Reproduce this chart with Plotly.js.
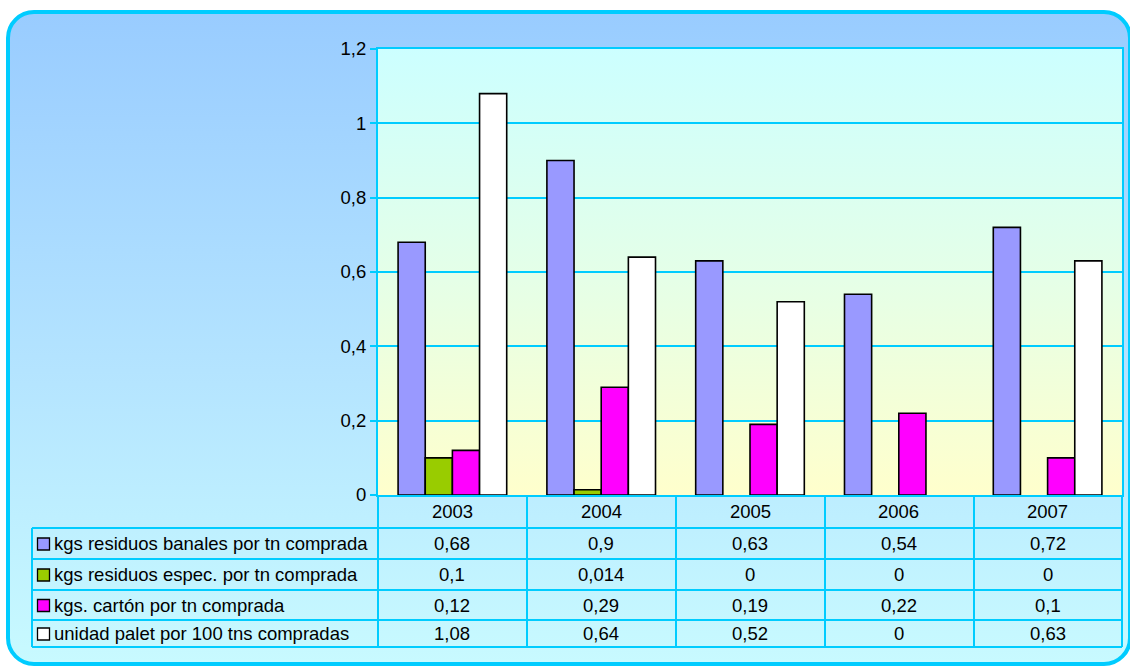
<!DOCTYPE html>
<html>
<head>
<meta charset="utf-8">
<script src="https://cdn.plot.ly/plotly-3.0.1.min.js"></script>
<style>
  html, body { margin: 0; padding: 0; background: #ffffff; }
  #wrap { position: relative; width: 1130px; height: 666px; overflow: hidden; background: #ffffff; }
  #frame { position: absolute; left: 6px; top: 10px; width: 1118px; height: 648px;
           border: 4px solid #00CCFF; border-radius: 28px;
           background: linear-gradient(to bottom, #99CCFF 0%, #B4E4FF 55%, #C8FAFF 100%); }
  #plotbg { position: absolute; left: 378px; top: 49px; width: 744px; height: 446px;
            background: linear-gradient(to bottom, #CCFFFF 0%, #E4FFE8 50%, #FFFFCC 100%); }
  #chart { position: absolute; left: 0; top: 0; width: 1130px; height: 666px; }
</style>
</head>
<body>
<div id="wrap">
  <div id="frame"></div>
  <div id="plotbg"></div>
  <div id="chart"></div>
</div>
<script>
// ---- data ----
const years = ['2003', '2004', '2005', '2006', '2007'];
const seriesNames = [
  'kgs residuos banales por tn comprada',
  'kgs residuos espec. por tn comprada',
  'kgs. cartón por tn comprada',
  'unidad palet por 100 tns compradas'
];
const banales = [0.68, 0.9, 0.63, 0.54, 0.72];
const espec   = [0.1, 0.014, 0, 0, 0];
const carton  = [0.12, 0.29, 0.19, 0.22, 0.1];
const palet   = [1.08, 0.64, 0.52, 0, 0.63];
const yTickVals = [0, 0.2, 0.4, 0.6, 0.8, 1, 1.2];
const yTickText = ['0', '0,2', '0,4', '0,6', '0,8', '1', '1,2'];

// ---- styles ----
const seriesValues = [banales, espec, carton, palet];
const seriesColors = ['#9999FF', '#99CC00', '#FF00FF', '#FFFFFF'];
const gridCol = '#00CCFF';
const FONT = 'Liberation Sans, Arial, sans-serif';
const TXT = 18.5;

const W = 1130, H = 666;
const PL = 378, PR = 1122, PT = 49, PB = 495;
const px = x => (x - PL) / (PR - PL);
const py = y => (PB - y) / (PB - PT);

const traces = seriesValues.map((vals, i) => ({
  type: 'bar',
  name: seriesNames[i],
  x: years,
  y: vals,
  marker: { color: seriesColors[i],
            line: { color: '#000000', width: vals.map(v => (v === 0 ? 0 : 1.6)) } },
  hoverinfo: 'skip'
}));

// ---- data table ----
const shapes = [];
const annotations = [];
const lineStyle = { color: gridCol, width: 2 };
const colLines = [378, 527, 676, 825, 974, 1122];
const rowLines = [528, 559, 590, 620, 647];
colLines.forEach(x => {
  shapes.push({ type: 'line', xref: 'paper', yref: 'paper',
    x0: px(x), x1: px(x), y0: py(PB), y1: py(647), line: lineStyle });
});
shapes.push({ type: 'line', xref: 'paper', yref: 'paper',
  x0: px(32), x1: px(32), y0: py(528), y1: py(647), line: lineStyle });
rowLines.forEach(y => {
  shapes.push({ type: 'line', xref: 'paper', yref: 'paper',
    x0: px(32), x1: px(1122), y0: py(y), y1: py(y), line: lineStyle });
});

// header (category axis positions are indexes)
years.forEach((yr, j) => {
  annotations.push({ xref: 'x', yref: 'paper', x: j, y: py(511.5), text: yr,
    showarrow: false, xanchor: 'center', yanchor: 'middle',
    font: { family: FONT, size: TXT, color: '#000' } });
});
const fmt = v => String(v).replace('.', ',');
const rowCenters = [543.5, 574.5, 605, 633.5];
seriesValues.forEach((vals, i) => {
  const yc = rowCenters[i];
  shapes.push({ type: 'rect', xref: 'paper', yref: 'paper',
    x0: px(37.5), x1: px(49.5), y0: py(yc + 6.5), y1: py(yc - 5.5),
    fillcolor: seriesColors[i], line: { color: '#000', width: 1.3 } });
  annotations.push({ xref: 'paper', yref: 'paper', x: px(52), y: py(yc), text: seriesNames[i],
    showarrow: false, xanchor: 'left', yanchor: 'middle',
    font: { family: FONT, size: TXT, color: '#000' } });
  vals.forEach((v, j) => {
    annotations.push({ xref: 'x', yref: 'paper', x: j, y: py(yc), text: fmt(v),
      showarrow: false, xanchor: 'center', yanchor: 'middle',
      font: { family: FONT, size: TXT, color: '#000' } });
  });
});

const layout = {
  width: W, height: H,
  margin: { l: PL, r: W - PR, t: PT, b: H - PB, pad: 0 },
  paper_bgcolor: 'rgba(0,0,0,0)',
  plot_bgcolor: 'rgba(0,0,0,0)',
  showlegend: false,
  barmode: 'group',
  bargap: 0.27,
  bargroupgap: 0,
  separators: ',.',
  xaxis: {
    type: 'category', range: [-0.5, 4.5], showticklabels: false, showgrid: false, zeroline: false,
    showline: true, linecolor: gridCol, linewidth: 2, mirror: true, ticks: ''
  },
  yaxis: {
    range: [0, 1.2], tickvals: yTickVals, ticktext: yTickText,
    showgrid: true, gridcolor: gridCol, gridwidth: 2, zeroline: false,
    showline: true, linecolor: gridCol, linewidth: 2, mirror: true,
    ticks: 'outside', ticklen: 6, tickwidth: 2, tickcolor: gridCol,
    tickfont: { family: FONT, size: 18.5, color: '#000' }
  },
  shapes: shapes,
  annotations: annotations
};

Plotly.newPlot('chart', traces, layout, { displayModeBar: false, staticPlot: true });
</script>
</body>
</html>
